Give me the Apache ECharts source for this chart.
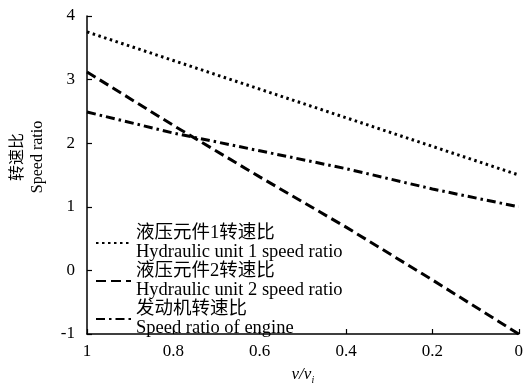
<!DOCTYPE html>
<html>
<head>
<meta charset="utf-8">
<script src="https://cdn.jsdelivr.net/npm/echarts@6/dist/echarts.min.js"></script>
<style>
  html, body { margin: 0; padding: 0; background: #fff; }
  #chart { width: 526px; height: 390px; }
</style>
</head>
<body>
<div id="chart"></div>
<script>
// speed ratio vs v/v_i (x axis runs from 1 down to 0)
const xValues = [1, 0.8, 0.6, 0.4, 0.2, 0];
const hydraulic1 = [3.75, 3.3, 2.85, 2.4, 1.95, 1.5];
const hydraulic2 = [3.12, 2.28, 1.47, 0.68, -0.15, -1.0];
const engine = [2.49, 2.16, 1.88, 1.6, 1.28, 1.0];
const seriesNames = [
  "液压元件1转速比\nHydraulic unit 1 speed ratio",
  "液压元件2转速比\nHydraulic unit 2 speed ratio",
  "发动机转速比\nSpeed ratio of engine",
];

const font = '"Liberation Serif", "Noto Sans CJK SC", serif';
const pairs = (ys) => xValues.map((x, i) => [x, ys[i]]);

const chart = echarts.init(document.getElementById("chart"));

chart.setOption({
  backgroundColor: "#fff",
  animation: false,
  color: ["#000", "#000", "#000"],
  textStyle: { fontFamily: font, color: "#000" },
  grid: { left: 86, right: 6, top: 16, bottom: 49 },
  legend: {
    orient: "vertical",
    left: 95,
    top: 224,
    itemWidth: 35,
    itemHeight: 10,
    itemGap: 0,
    padding: 0,
    data: seriesNames,
    itemStyle: { opacity: 0 },
    textStyle: { fontFamily: font, fontSize: 18.5, lineHeight: 19, color: "#000" },
  },
  xAxis: {
    type: "value",
    inverse: true,
    min: 0,
    max: 1,
    interval: 0.2,
    name: "{a|v/v}{b|i}",
    nameLocation: "middle",
    nameGap: 31,
    nameTextStyle: {
      rich: {
        a: { fontFamily: font, fontSize: 17, fontStyle: "italic", color: "#000" },
        b: { fontFamily: font, fontSize: 10, fontStyle: "italic", color: "#000", padding: [10, 0, 0, 0] },
      },
    },
    axisLine: { onZero: false, lineStyle: { color: "#000", width: 1.5 } },
    axisTick: { inside: true, length: 5, lineStyle: { color: "#000", width: 1.2 } },
    axisLabel: { color: "#000", fontFamily: font, fontSize: 17, margin: 9 },
    splitLine: { show: false },
  },
  yAxis: {
    type: "value",
    position: "left",
    min: -1,
    max: 4,
    interval: 1,
    name: "转速比\nSpeed ratio",
    nameLocation: "middle",
    nameGap: 39,
    nameRotate: 90,
    nameTextStyle: {
      fontFamily: font,
      fontSize: 16,
      lineHeight: 20,
      color: "#000",
      padding: [0, 0, 0, 36],
    },
    axisLine: { show: true, onZero: false, lineStyle: { color: "#000", width: 1.5 } },
    axisTick: { show: true, inside: true, length: 5, lineStyle: { color: "#000", width: 1.2 } },
    axisLabel: { color: "#000", fontFamily: font, fontSize: 17, margin: 12 },
    splitLine: { show: false },
  },
  series: [
    {
      name: seriesNames[0],
      type: "line",
      data: pairs(hydraulic1),
      symbol: "none",
      lineStyle: { color: "#000", width: 3, type: [2.5, 3.5] },
    },
    {
      name: seriesNames[1],
      type: "line",
      data: pairs(hydraulic2),
      symbol: "none",
      lineStyle: { color: "#000", width: 3, type: [10, 5] },
    },
    {
      name: seriesNames[2],
      type: "line",
      data: pairs(engine),
      symbol: "none",
      lineStyle: { color: "#000", width: 3, type: [9, 4, 2.5, 4] },
    },
  ],
});
</script>
</body>
</html>
